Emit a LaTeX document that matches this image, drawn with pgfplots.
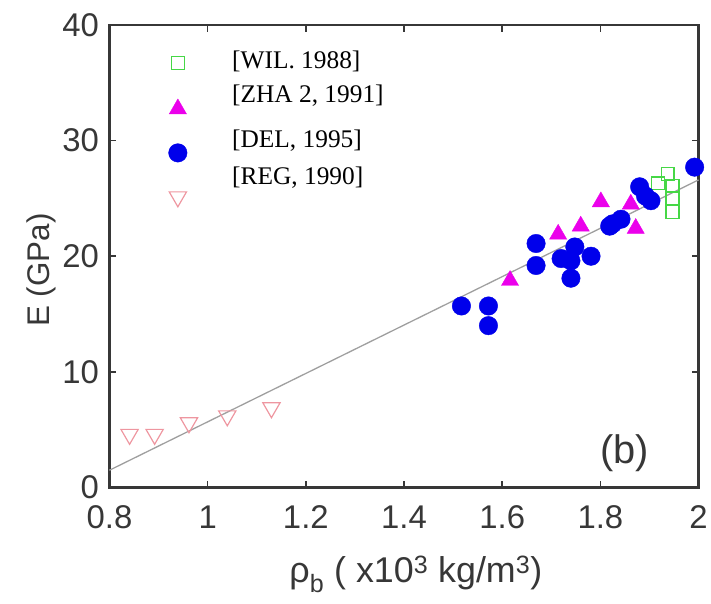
\documentclass[border=0pt]{standalone}
\usepackage{pgfplots}
\pgfplotsset{compat=1.18}
\usepackage{fontspec}
\setmainfont{Liberation Sans}
\newfontfamily\timesf{Liberation Serif}
\definecolor{wilgreen}{RGB}{70,215,70}
\definecolor{zhamag}{RGB}{235,0,235}
\definecolor{delblue}{RGB}{0,0,235}
\definecolor{regpink}{RGB}{238,150,160}
\definecolor{axgray}{RGB}{55,55,55}
\begin{document}
\begin{tikzpicture}
\begin{axis}[
  name=ax,
  scale only axis, width=592pt, height=465pt,
  xmin=0.8, xmax=2, ymin=0, ymax=40,
  xtick={0.8,1,1.2,1.4,1.6,1.8,2},
  xticklabels={0.8,1,1.2,1.4,1.6,1.8,2},
  ytick={0,10,20,30,40},
  yticklabels={0,10,20,30,40},
  tick align=inside, major tick length=7pt,
  axis line style={line width=2.5pt, draw=axgray},
  every tick/.style={line width=1.5pt, axgray},
  tick label style={font=\fontsize{33}{35}\selectfont, text=axgray},
  xticklabel style={yshift=-15pt},
  yticklabel style={xshift=-7pt},
  /pgf/number format/assume math mode=true,
  xlabel={ρ\textsubscript{b} ( x10\textsuperscript{3} kg/m\textsuperscript{3})},
  ylabel={E (GPa)},
  xlabel style={font=\fontsize{36}{38}\selectfont, text=axgray, at={(ticklabel cs:0.52)}, yshift=-20pt},
  ylabel style={font=\fontsize{31.5}{33}\selectfont, text=axgray, at={(ticklabel cs:0.47)}},
  clip=false,
  legend style={draw=none, fill=none, at={(axis description cs:0.095,0.936)}, anchor=north west,
    row sep=29.5pt, font=\fontsize{10}{12}\selectfont},
  legend cell align=left,
]
\addplot[gray!75, line width=1.3pt, forget plot] coordinates {(0.8,1.5) (2,26.6)};
\addplot[only marks, mark=square, mark size=6.5pt, draw=wilgreen, line width=1.3pt] coordinates {
(1.937,27.1) (1.947,26.1) (1.947,25.0) (1.947,23.8) (1.918,26.3)};
\addlegendentry{\phantom{x}}
\addplot[only marks, mark=triangle*, mark size=10pt, draw=zhamag, fill=zhamag] coordinates {
(1.616,17.9) (1.714,21.9) (1.760,22.6) (1.801,24.7) (1.862,24.5) (1.872,22.4)};
\addlegendentry{\phantom{x}}
\addplot[only marks, mark=*, mark size=9.3pt, draw=delblue, fill=delblue] coordinates {
(1.517,15.7) (1.572,15.7) (1.572,14.0) (1.669,21.1) (1.669,19.2) (1.720,19.8) (1.748,20.8)
(1.740,19.6) (1.740,18.1) (1.781,20.0) (1.819,22.6) (1.825,22.8) (1.842,23.2)
(1.880,26.0) (1.892,25.2) (1.903,24.8) (1.992,27.7)};
\addlegendentry{\phantom{x}}
\addplot[only marks, mark=triangle, mark size=10pt, mark options={rotate=180}, draw=regpink, line width=1.2pt] coordinates {
(0.841,4.6) (0.892,4.6) (0.962,5.6) (1.040,6.2) (1.130,6.9)};
\addlegendentry{\phantom{x}}
\node[anchor=west, font=\timesf\fontsize{25.5}{27}\selectfont, inner sep=0pt] at (axis description cs:0.208,0.922) {[WIL. 1988]};
\node[anchor=west, font=\timesf\fontsize{25.5}{27}\selectfont, inner sep=0pt] at (axis description cs:0.208,0.848) {[ZHA 2, 1991]};
\node[anchor=west, font=\timesf\fontsize{25.5}{27}\selectfont, inner sep=0pt] at (axis description cs:0.208,0.750) {[DEL, 1995]};
\node[anchor=west, font=\timesf\fontsize{25.5}{27}\selectfont, inner sep=0pt] at (axis description cs:0.208,0.670) {[REG, 1990]};
\node[font=\fontsize{40}{42}\selectfont, text=axgray] at (axis description cs:0.875,0.075) {(b)};
\end{axis}
\path (ax.south west) ++(-110pt,-116pt) rectangle ([shift={(9pt,25pt)}]ax.north east);
\end{tikzpicture}
\end{document}
